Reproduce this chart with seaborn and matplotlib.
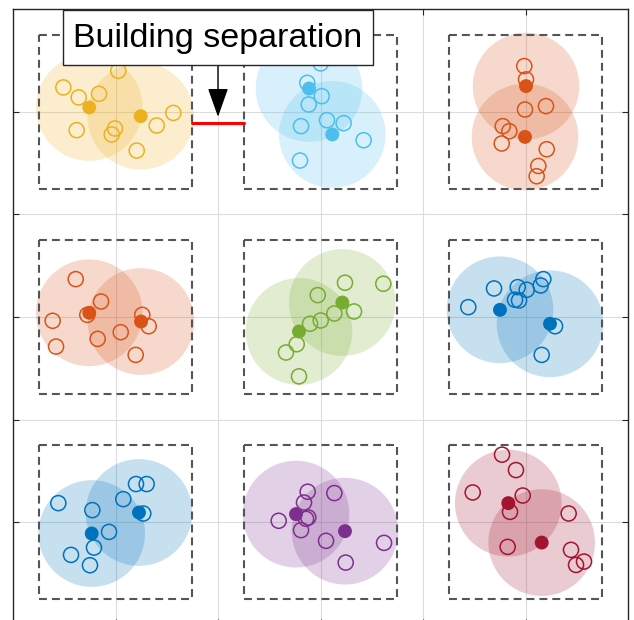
import pandas as pd
import matplotlib
matplotlib.use("Agg")
import matplotlib.pyplot as plt
import matplotlib.patches as mpatches
import seaborn as sns

# 3x3 building blocks, MATLAB line colours
colours = ["#EDB120", "#4DBEEE", "#D95319", "#D95319", "#77AC30",
           "#0072BD", "#0072BD", "#7E2F8E", "#A2142F"]
block_cx = [1, 3, 5, 1, 3, 5, 1, 3, 5]
block_cy = [1, 1, 1, 3, 3, 3, 5, 5, 5]
block_half = 0.75
coverage_r = 0.52

# base stations (two per block)
bs_x = [0.744, 1.246, 2.888, 3.115, 5.005, 4.995,
        0.744, 1.249, 2.790, 3.213, 4.751, 5.239,
        0.768, 1.229, 2.761, 3.239, 4.832, 5.158]
bs_y = [0.959, 1.044, 0.774, 1.222, 0.751, 1.246,
        2.959, 3.044, 3.141, 2.859, 2.930, 3.066,
        5.109, 4.904, 4.920, 5.086, 4.813, 5.197]
bs_block = [0, 0, 1, 1, 2, 2, 3, 3, 4, 4, 5, 5, 6, 6, 7, 7, 8, 8]

# users
ue_x = [0.491, 0.641, 0.839, 1.027, 0.621, 0.995, 0.963, 1.207, 1.402, 1.564,
        3.002, 2.871, 3.012, 2.885, 3.063, 3.226, 2.810, 3.421, 2.800,
        4.988, 5.005, 4.995, 5.200, 4.778, 4.842, 4.768, 5.207, 5.125, 5.109,
        0.612, 0.859, 0.725, 0.387, 0.420, 0.826, 1.051, 1.261, 1.324, 1.197,
        3.239, 3.613, 2.973, 3.327, 3.135, 3.002, 2.898, 2.768, 2.663, 2.790,
        4.442, 4.693, 4.924, 5.012, 5.174, 5.148, 4.898, 4.937, 5.288, 5.158,
        0.442, 0.774, 1.076, 1.200, 1.304, 1.271, 0.937, 0.790, 0.566, 0.751,
        2.875, 3.135, 2.839, 2.592, 2.881, 2.859, 2.810, 3.054, 3.620, 3.246,
        4.771, 4.907, 4.485, 4.973, 4.849, 5.421, 4.826, 5.444, 5.493, 5.571]
ue_y = [0.764, 0.861, 0.826, 0.602, 1.180, 1.164, 1.222, 1.379, 1.135, 1.012,
        0.530, 0.719, 0.849, 0.930, 1.083, 1.112, 1.141, 1.278, 1.476,
        0.556, 0.686, 0.979, 0.946, 1.141, 1.190, 1.310, 1.366, 1.529, 1.629,
        2.631, 2.849, 2.979, 3.037, 3.288, 3.213, 3.148, 2.979, 3.090, 3.369,
        2.666, 2.676, 2.787, 2.946, 2.966, 3.034, 3.066, 3.265, 3.346, 3.578,
        2.904, 2.722, 2.709, 2.735, 2.631, 2.693, 2.832, 2.839, 3.090, 3.369,
        4.813, 4.881, 4.774, 4.627, 4.627, 4.914, 5.093, 5.246, 5.317, 5.418,
        4.702, 4.715, 4.807, 4.985, 4.953, 4.966, 5.076, 5.180, 5.200, 5.392,
        4.341, 4.491, 4.709, 4.739, 4.898, 4.914, 5.239, 5.268, 5.415, 5.382]
ue_block = [0] * 10 + [1] * 9 + [2] * 10 + [3] * 10 + [4] * 10 + \
           [5] * 10 + [6] * 10 + [7] * 10 + [8] * 10

sep_y = 1.11

bs = pd.DataFrame({"x": bs_x, "y": bs_y, "block": bs_block})
ue = pd.DataFrame({"x": ue_x, "y": ue_y, "block": ue_block})
pal = {i: c for i, c in enumerate(colours)}

sns.set_style("white")
plt.rcParams["font.family"] = ["Liberation Sans", "DejaVu Sans"]

fig = plt.figure(figsize=(6.34, 6.2), dpi=100)
ax = fig.add_axes([13 / 634, -5 / 620, 615 / 634, 616 / 620])

# coverage circles
for x, y, b in zip(bs_x, bs_y, bs_block):
    ax.add_patch(mpatches.Circle((x, y), coverage_r, fc=colours[b],
                                 alpha=0.22, ec="none", zorder=1))

# building outlines
for cx, cy in zip(block_cx, block_cy):
    ax.add_patch(mpatches.Rectangle((cx - block_half, cy - block_half),
                                    2 * block_half, 2 * block_half,
                                    fill=False, ec="#555555", lw=1.5,
                                    ls=(0, (3.8, 2.4)), zorder=2))

sns.scatterplot(data=ue, x="x", y="y", hue="block", palette=pal, s=118,
                linewidth=1.1, legend=False, ax=ax, zorder=3)
coll = ax.collections[-1]
coll.set_edgecolors(coll.get_facecolors())
coll.set_facecolors("none")

sns.scatterplot(data=bs, x="x", y="y", hue="block", palette=pal, s=100,
                linewidth=0, legend=False, ax=ax, zorder=4)

# building separation marker
ax.plot([block_cx[0] + block_half, block_cx[1] - block_half], [sep_y, sep_y],
        color="red", lw=2.2, zorder=4)
ax.annotate("", xy=(2.0, 1.05), xytext=(2.0, 0.546),
            arrowprops=dict(arrowstyle="-|>,head_length=0.9,head_width=0.32",
                            color="black", lw=1, shrinkA=0, shrinkB=0,
                            mutation_scale=20), zorder=6)
ax.add_patch(mpatches.Rectangle((0.488, 0.01), 3.022, 0.536, fc="white",
                                ec="#262626", lw=1, zorder=7, clip_on=False))
ax.text(2.0, 0.285, "Building separation", ha="center", va="center",
        fontsize=24.5, color="black", zorder=8)

ax.set_xlim(0, 6)
ax.set_ylim(6, 0)
ax.set_xticks([1, 2, 3, 4, 5])
ax.set_yticks([1, 2, 3, 4, 5])
ax.set_xticklabels([])
ax.set_yticklabels([])
ax.set_xlabel("")
ax.set_ylabel("")
ax.grid(True, color="#dcdcdc", lw=0.8)
ax.set_axisbelow(True)
ax.tick_params(direction="in", length=4.5, width=0.8, color="#262626",
               top=True, right=True, bottom=True, left=True)
for sp in ax.spines.values():
    sp.set_color("#262626")
    sp.set_linewidth(1)

fig.savefig("out.png", dpi=100)
